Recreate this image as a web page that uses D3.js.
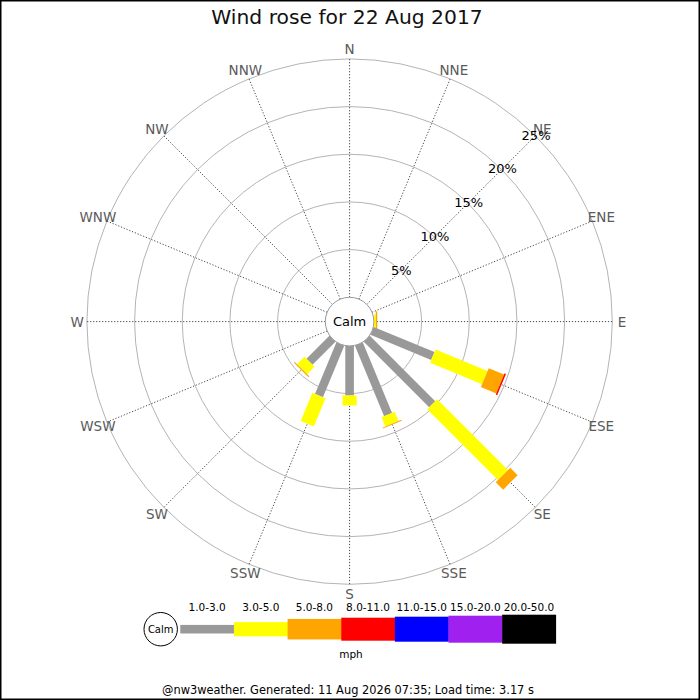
<!DOCTYPE html>
<html>
<head>
<meta charset="utf-8">
<script src="https://cdn.jsdelivr.net/npm/d3@7"></script>
<style>
  html, body { margin: 0; padding: 0; background: #fff; }
  svg { display: block; font-family: "DejaVu Sans", sans-serif; }
</style>
</head>
<body>
<svg id="chart" width="700" height="700"></svg>
<script>
// ---------- data ----------
const titleText = "Wind rose for 22 Aug 2017";
const footerText = "@nw3weather. Generated: 11 Aug 2026 07:35; Load time: 3.17 s";
const directions = ["N","NNE","NE","ENE","E","ESE","SE","SSE","S","SSW","SW","WSW","W","WNW","NW","NNW"];
const speedBins = ["1.0-3.0","3.0-5.0","5.0-8.0","8.0-11.0","11.0-15.0","15.0-20.0","20.0-50.0"];
const binColors = ["#999999","#ffff00","#ffa500","#ff0000","#0000ff","#a020f0","#000000"];
const speedUnit = "mph";
const percentTicks = [5, 10, 15, 20, 25];
// percentage of time per direction (N..NNW) for each speed bin
const bin1to3   = [0,0,0,0,0,   6.9, 9.7, 8.0, 5.2, 5.85, 3.4, 0,0,0,0,0];
const bin3to5   = [0,0,0,0,0.2, 5.9,10.5, 1.05,1.05,3.2,  1.1, 0,0,0,0,0];
const bin5to8   = [0,0,0,0,0.15,1.75,1.1, 0.1, 0,   0,    0.12,0,0,0,0,0];
const bin8to11  = [0,0,0,0,0,   0.15,0,   0,   0,   0,    0,   0,0,0,0,0];
const bin11to15 = [0,0,0,0,0,0,0,0,0,0,0,0,0,0,0,0];
const bin15to20 = [0,0,0,0,0,0,0,0,0,0,0,0,0,0,0,0];
const bin20to50 = [0,0,0,0,0,0,0,0,0,0,0,0,0,0,0,0];
const binSeries = [bin1to3, bin3to5, bin5to8, bin8to11, bin11to15, bin15to20, bin20to50];

// ---------- layout ----------
const svg = d3.select("#chart");
const W = 700, H = 700;
const cx = 349.6, cy = 321.6;
const calmR = 24.3, outerR = 262.7;
const barWidths = [8.6, 14.2, 20.5, 23, 25, 27, 29];

const r = d3.scaleLinear().domain([0, 25]).range([calmR, outerR]);
const angle = d3.scalePoint().domain(directions).range([0, 360 - 22.5]);

// border
svg.append("rect").attr("x", 0.75).attr("y", 0.75).attr("width", W - 1.5).attr("height", H - 1.5)
  .attr("fill", "#fff").attr("stroke", "#000").attr("stroke-width", 1.5);

// title
svg.append("text").attr("x", 347).attr("y", 24).attr("text-anchor", "middle")
  .attr("font-size", 20.3).attr("fill", "#111").text(titleText);

const g = svg.append("g").attr("transform", `translate(${cx},${cy})`);

// rings
g.selectAll("circle.ring").data(percentTicks).join("circle")
  .attr("class", "ring").attr("r", d => r(d))
  .attr("fill", "none").attr("stroke", "#b4b4b4").attr("stroke-width", 1);

// spokes
const rad = d => (angle(d) - 90) * Math.PI / 180;
g.selectAll("line.spoke").data(directions).join("line")
  .attr("class", "spoke")
  .attr("x1", d => calmR * Math.cos(rad(d))).attr("y1", d => calmR * Math.sin(rad(d)))
  .attr("x2", d => outerR * Math.cos(rad(d))).attr("y2", d => outerR * Math.sin(rad(d)))
  .attr("stroke", "#333").attr("stroke-width", 0.9).attr("stroke-dasharray", "1.2,1.8");

// compass labels
g.selectAll("text.dir").data(directions).join("text")
  .attr("class", "dir")
  .attr("x", d => 272.5 * Math.cos(rad(d))).attr("y", d => 272.5 * Math.sin(rad(d)))
  .attr("text-anchor", "middle").attr("dominant-baseline", "central")
  .attr("font-size", 13.5).attr("fill", "#5a5a5a").text(d => d);

// bars (stacked radially)
const segs = [];
directions.forEach((d, i) => {
  let acc = 0;
  binSeries.forEach((s, b) => {
    const v = s[i];
    if (v > 0) segs.push({ dir: d, bin: b, start: acc, end: acc + v });
    acc += v;
  });
});
g.selectAll("rect.seg").data(segs).join("rect")
  .attr("class", "seg")
  .attr("transform", d => `rotate(${angle(d.dir) - 90})`)
  .attr("x", d => r(d.start))
  .attr("width", d => r(d.end) - r(d.start))
  .attr("y", d => -barWidths[d.bin] / 2)
  .attr("height", d => barWidths[d.bin])
  .attr("fill", d => binColors[d.bin]);

// percent labels along NE
const neRad = rad("NE");
g.selectAll("text.pct").data(percentTicks).join("text")
  .attr("class", "pct")
  .attr("x", d => (r(d) + 1) * Math.cos(neRad)).attr("y", d => (r(d) + 1) * Math.sin(neRad))
  .attr("text-anchor", "middle").attr("dominant-baseline", "central")
  .attr("font-size", 13).attr("fill", "#000").text(d => d + "%");

// calm circle
g.append("circle").attr("r", calmR).attr("fill", "#fff").attr("stroke", "#999").attr("stroke-width", 1);
g.append("text").attr("text-anchor", "middle").attr("dominant-baseline", "central")
  .attr("font-size", 13).attr("fill", "#000").text("Calm");

// ---------- legend ----------
const lg = svg.append("g");
const legCy = 629.2;
const segX = d3.scaleBand().domain(speedBins).range([180.3, 555.8]).padding(0);
lg.selectAll("rect.leg").data(speedBins).join("rect")
  .attr("class", "leg")
  .attr("x", d => segX(d)).attr("width", segX.bandwidth() + 0.3)
  .attr("y", (d, i) => legCy - barWidths[i] / 2).attr("height", (d, i) => barWidths[i])
  .attr("fill", (d, i) => binColors[i]);
lg.selectAll("text.leg").data(speedBins).join("text")
  .attr("class", "leg")
  .attr("x", d => segX(d) + segX.bandwidth() / 2).attr("y", 610.5)
  .attr("text-anchor", "middle").attr("font-size", 10.5).attr("fill", "#000").text(d => d);
lg.append("circle").attr("cx", 160.7).attr("cy", legCy).attr("r", 16.7)
  .attr("fill", "#fff").attr("stroke", "#000").attr("stroke-width", 1);
lg.append("text").attr("x", 160.7).attr("y", legCy).attr("text-anchor", "middle")
  .attr("dominant-baseline", "central").attr("font-size", 10).attr("fill", "#000").text("Calm");
lg.append("text").attr("x", 351).attr("y", 657.5).attr("text-anchor", "middle")
  .attr("font-size", 10.5).attr("fill", "#000").text(speedUnit);

// footer
svg.append("text").attr("x", 348).attr("y", 694).attr("text-anchor", "middle")
  .attr("font-size", 11.4).attr("fill", "#000").text(footerText);
</script>
</body>
</html>
